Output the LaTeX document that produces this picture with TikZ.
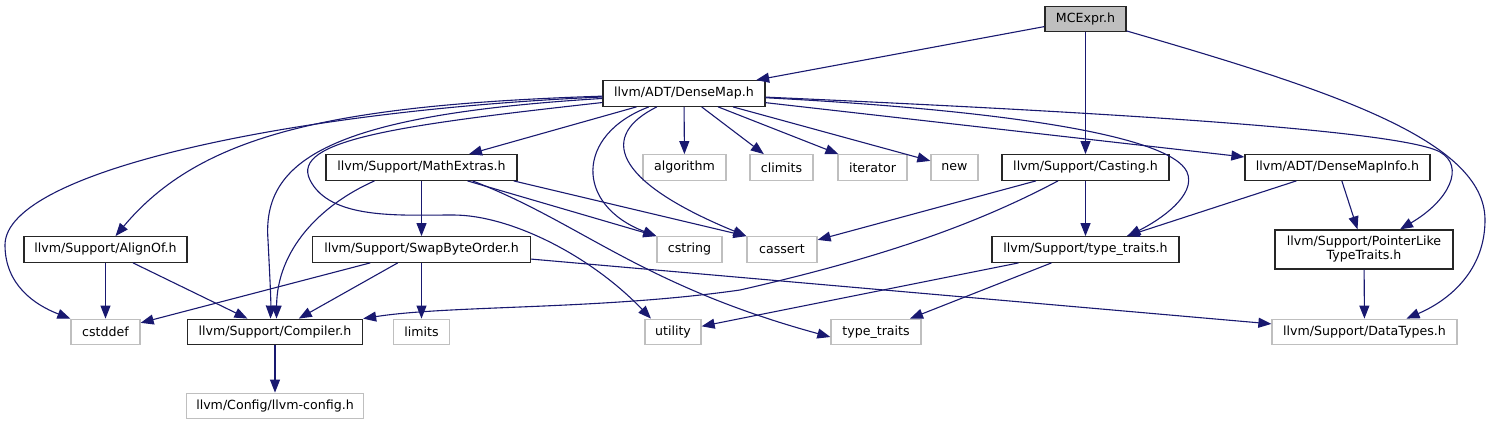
\documentclass[tikz,border=0pt]{standalone}
\usepackage{fontspec}
\setmainfont{DejaVu Sans}
\usetikzlibrary{arrows.meta}
\definecolor{edgeblue}{HTML}{191970}
\definecolor{extgray}{HTML}{BFBFBF}
\begin{document}
\begin{tikzpicture}[x=1pt,y=-1pt,
  every node/.style={font=\fontsize{12.6}{14}\selectfont, inner sep=0pt, align=center, minimum height=25.5pt},
  doc/.style={draw=black!85, fill=white, line width=1.3pt},
  ext/.style={draw=extgray, fill=white, line width=1.3pt},
  rootbox/.style={draw=black!85, fill=extgray, line width=1.3pt},
  edge/.style={draw=edgeblue, line width=1.1pt, -{Triangle[length=13pt,width=10pt]}}]
\useasboundingbox (0,0) rectangle (1491,425);
% nodes
\node[rootbox, minimum width=81pt] (mcexpr) at (1085.5,19) {MCExpr.h};
\node[doc, minimum width=162pt] (densemap) at (684,93.5) {llvm/ADT/DenseMap.h};
\node[doc, minimum width=191pt] (mathextras) at (421.5,167.5) {llvm/Support/MathExtras.h};
\node[ext, minimum width=83pt] (algorithm) at (684.5,167.5) {algorithm};
\node[ext, minimum width=63pt] (climits) at (781.5,167.5) {climits};
\node[ext, minimum width=69pt] (iterator) at (872.5,167.5) {iterator};
\node[ext, minimum width=47pt] (new) at (954.5,167.5) {new};
\node[doc, minimum width=167pt] (casting) at (1085.5,167.5) {llvm/Support/Casting.h};
\node[doc, minimum width=185pt] (densemapinfo) at (1337.5,167.5) {llvm/ADT/DenseMapInfo.h};
\node[doc, minimum width=163pt] (alignof) at (105.5,249.5) {llvm/Support/AlignOf.h};
\node[doc, minimum width=218pt] (swap) at (421.5,249.5) {llvm/Support/SwapByteOrder.h};
\node[ext, minimum width=65pt] (cstring) at (689.5,249.5) {cstring};
\node[ext, minimum width=70pt] (cassert) at (782,249.5) {cassert};
\node[doc, minimum width=187pt] (typetraitsh) at (1085.5,249.5) {llvm/Support/type\_traits.h};
\node[doc, minimum width=178pt, minimum height=39pt] (pointerlike) at (1364,249.5) {llvm/Support/PointerLike\\TypeTraits.h};
\node[ext, minimum width=69pt] (cstddef) at (105.5,332) {cstddef};
\node[doc, minimum width=175pt] (compiler) at (275,332) {llvm/Support/Compiler.h};
\node[ext, minimum width=56pt] (limits) at (421.5,332) {limits};
\node[ext, minimum width=56pt] (utility) at (673,332) {utility};
\node[ext, minimum width=90pt] (typetraits) at (876,332) {type\_traits};
\node[ext, minimum width=185pt] (datatypes) at (1364.5,332) {llvm/Support/DataTypes.h};
\node[ext, minimum width=177pt] (llvmconfig) at (275,406) {llvm/Config/llvm-config.h};
% edges from MCExpr
\draw[edge] (mcexpr) -- (densemap);
\draw[edge] (mcexpr) -- (casting);
\draw[edge] (mcexpr) .. controls (1330,90) and (1485,140) .. (1485,220) .. controls (1485,270) and (1450,300) .. ([xshift=42]datatypes.north);
% edges from DenseMap
\draw[edge] (densemap) .. controls (300,110) and (5,170) .. (5,245) .. controls (5,285) and (35,305) .. (cstddef.north west);
\draw[edge] (densemap) .. controls (330,105) and (200,135) .. ([xshift=10]alignof.north);
\draw[edge] (densemap) .. controls (330,115) and (262,160) .. (268,240) .. controls (270,280) and (271,300) .. ([xshift=-4.5]compiler.north);
\draw[edge] (densemap) .. controls (400,125) and (290,140) .. (310,180) .. controls (330,220) and (400,215) .. (453,215) .. controls (510,215) and (590,255) .. ([xshift=-22]utility.north);
\draw[edge] (densemap) -- (mathextras);
\draw[edge] (densemap) .. controls (575,135) and (575,205) .. (cstring.north west);
\draw[edge] (densemap) .. controls (600,135) and (610,180) .. (cassert.north west);
\draw[edge] (densemap) -- (algorithm);
\draw[edge] (densemap) -- (climits);
\draw[edge] (densemap) -- (iterator);
\draw[edge] (densemap) -- (new);
\draw[edge] (densemap) .. controls (1000,110) and (1170,135) .. (1187,172) .. controls (1197,195) and (1160,220) .. ([xshift=42]typetraitsh.north);
\draw[edge] (densemap) -- (densemapinfo);
\draw[edge] (densemap) .. controls (1100,112) and (1400,130) .. (1440,152) .. controls (1465,166) and (1450,200) .. ([xshift=36]pointerlike.north);
% edges from MathExtras
\draw[edge] ([xshift=-47]mathextras.south) .. controls (320,205) and (277,250) .. ([xshift=1.5]compiler.north);
\draw[edge] (mathextras) -- (swap);
\draw[edge] ([xshift=46]mathextras.south) -- (cstring.north west);
\draw[edge] ([xshift=51]mathextras.south) .. controls (580,222) and (640,285) .. ([yshift=-5]typetraits.west);
\draw[edge] ([xshift=-4]mathextras.south east) -- (cassert.north west);
% edges from SwapByteOrder
\draw[edge] (swap) -- (cstddef);
\draw[edge] (swap) -- (compiler);
\draw[edge] (swap) -- (limits);
\draw[edge] (swap) -- (datatypes);
% edges from AlignOf
\draw[edge] (alignof) -- (cstddef);
\draw[edge] (alignof) -- (compiler);
% edges from Casting
\draw[edge] (casting) -- (cassert);
\draw[edge] ([xshift=-27.5]casting.south) .. controls (975,225) and (880,258) .. (740,290) .. controls (600,310) and (450,305) .. (compiler.north east);
\draw[edge] (casting) -- (typetraitsh);
% edges from DenseMapInfo
\draw[edge] (densemapinfo) -- (typetraitsh);
\draw[edge] (densemapinfo) -- (pointerlike);
% edges from type_traits.h
\draw[edge] (typetraitsh) -- (utility);
\draw[edge] (typetraitsh) -- (typetraits);
% others
\draw[edge] (pointerlike) -- (datatypes);
\draw[edge] (compiler) -- (llvmconfig);
\end{tikzpicture}
\end{document}
